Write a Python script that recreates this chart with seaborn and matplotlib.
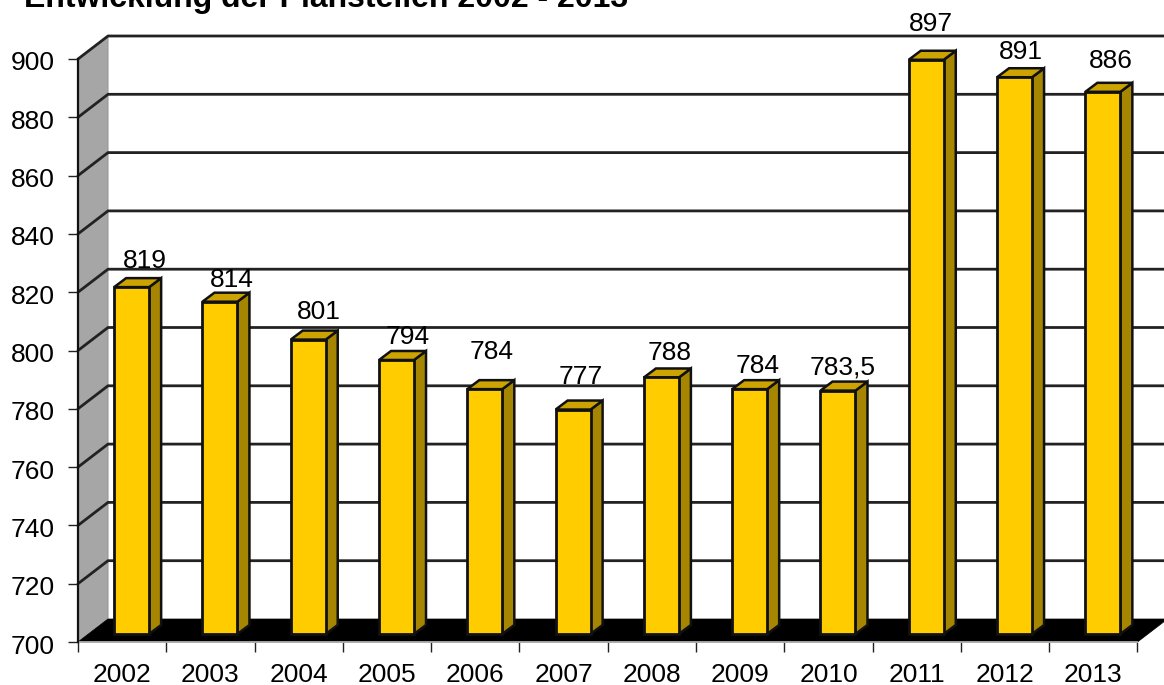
import matplotlib
matplotlib.use("Agg")
import matplotlib.pyplot as plt
from matplotlib.patches import Polygon
from matplotlib.transforms import ScaledTranslation, offset_copy
import pandas as pd
import seaborn as sns

years = ["2002", "2003", "2004", "2005", "2006", "2007",
         "2008", "2009", "2010", "2011", "2012", "2013"]
posts = [819, 814, 801, 794, 784, 777, 788, 784, 783.5, 897, 891, 886]
title_text = "Entwicklung der Planstellen 2002 - 2013"

# Horizontal and vertical nudges of each value label, in pixels above the bar top
label_dx = [1, 0, -1, -1, -5, -4, -4, -4, -7, -7, -6, -4]
label_dy = [26, 22, 28, 23, 37, 33, 24, 23, 23, 36, 25, 31]

W, H = 1164, 685
LEFT, RIGHT, BOTTOM, TOP = 78, 1137.5, 642, 59
YMIN, YMAX = 700, 900
PX_X = (RIGHT - LEFT) / len(years)
PX_Y = (BOTTOM - TOP) / (YMAX - YMIN)
LABEL_SIZE = 19

sns.set_theme(style="white")
plt.rcParams["font.family"] = ["Liberation Sans", "DejaVu Sans"]

fig = plt.figure(figsize=(W / 100, H / 100), dpi=100, facecolor="white")
ax = fig.add_axes([LEFT / W, (H - BOTTOM) / H, (RIGHT - LEFT) / W, (BOTTOM - TOP) / H])

frame = pd.DataFrame({"year": years, "posts": posts})
sns.barplot(data=frame, x="year", y="posts", color="#FFCC00", saturation=1,
            width=35 / PX_X, edgecolor="#111111", linewidth=2.0, ax=ax)
ax.set_xlim(-0.5, len(years) - 0.5)
ax.set_ylim(YMIN, YMAX)


def dx(px):
    return px / PX_X


def dy(px):
    return px / PX_Y


x0, x1 = -0.5, len(years) - 0.5
wall_x, wall_y = dx(30), dy(23)

# Grey side wall and black floor of the chart box
ax.add_patch(Polygon([(x0, YMAX), (x0 + wall_x, YMAX + wall_y),
                      (x0 + wall_x, YMIN + wall_y), (x0, YMIN)],
                     facecolor="#A6A6A6", edgecolor="#999999", lw=0.8,
                     zorder=1, clip_on=False))
ax.add_patch(Polygon([(x0, YMIN), (x0 + wall_x, YMIN + wall_y),
                      (x1 + wall_x, YMIN + wall_y), (x1, YMIN)],
                     facecolor="black", edgecolor="black", lw=0.5,
                     zorder=1.5, clip_on=False))

# Gridlines run across the back wall and fold down the side wall
for level in range(YMIN + 20, YMAX + 1, 20):
    ax.plot([x0, x0 + wall_x, x1 + wall_x], [level, level + wall_y, level + wall_y],
            color="#222222", lw=2.0, zorder=2, clip_on=False,
            solid_joinstyle="miter")

# Front faces sit slightly inside the box, so shift them along the depth axis
front = offset_copy(ax.transData, fig=fig, x=9.5, y=8, units="dots")
side_x, side_y = dx(12), dy(9)
for i, (patch, value) in enumerate(zip(ax.patches[:len(years)], posts)):
    patch.set_y(YMIN)
    patch.set_height(value - YMIN)
    patch.set_transform(front)
    patch.set_clip_on(False)
    patch.set_zorder(4)
    left = patch.get_x()
    right = left + patch.get_width()
    ax.add_patch(Polygon([(right, YMIN), (right + side_x, YMIN + side_y),
                          (right + side_x, value + side_y), (right, value)],
                         facecolor="#A68500", edgecolor="#111111", lw=1.8,
                         transform=front, zorder=3, clip_on=False))
    ax.add_patch(Polygon([(left, value), (left + side_x, value + side_y),
                          (right + side_x, value + side_y), (right, value)],
                         facecolor="#CCA300", edgecolor="#111111", lw=1.8,
                         transform=front, zorder=3, clip_on=False))
    ax.annotate(str(value).replace(".", ","), xy=(i, value), xycoords="data",
                xytext=(9.5 + 12 + label_dx[i], 8 + label_dy[i]),
                textcoords="offset pixels", ha="center", va="center",
                fontsize=LABEL_SIZE, color="black", zorder=6, annotation_clip=False)

ax.set_xlabel("")
ax.set_ylabel("")
ax.set_yticks(range(YMIN, YMAX + 1, 20))
ax.set_xticks([i - 0.5 for i in range(len(years) + 1)], minor=True)
ax.set_xticks(range(len(years)), years)
ax.tick_params(axis="x", which="major", length=0, labelsize=LABEL_SIZE, pad=15, colors="black")
ax.tick_params(axis="x", which="minor", length=7, width=1.0, color="#222222", bottom=True)
ax.tick_params(axis="y", which="major", length=7, width=1.0, color="#222222", left=True,
               labelsize=LABEL_SIZE, pad=10, labelcolor="black")

# Value-axis numbers sit a little below their tick marks
drop = ScaledTranslation(0, -2 / 100, fig.dpi_scale_trans)
for tick_label in ax.get_yticklabels():
    tick_label.set_transform(tick_label.get_transform() + drop)

for side in ("top", "right"):
    ax.spines[side].set_visible(False)
ax.spines["left"].set_color("#111111")
ax.spines["left"].set_linewidth(1.6)
ax.spines["left"].set_zorder(5)
ax.spines["bottom"].set_color("#B0B0B0")
ax.spines["bottom"].set_linewidth(1.3)

fig.text(24 / W, (H - 7) / H, title_text, fontsize=23, fontweight="bold",
         color="black", ha="left", va="baseline")

fig.savefig("out.png", dpi=100, facecolor="white")
